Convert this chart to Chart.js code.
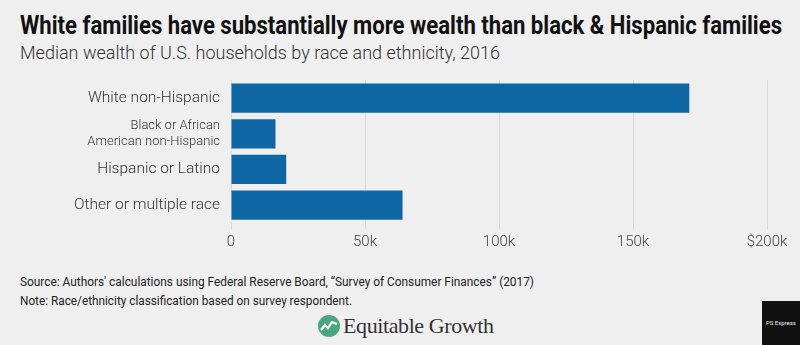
<!DOCTYPE html>
<html>
<head>
<meta charset="utf-8">
<script src="https://cdn.jsdelivr.net/npm/chart.js@4"></script>
<style>
  html, body { margin: 0; padding: 0; }
  body { width: 800px; height: 345px; background: #efefef; position: relative; overflow: hidden;
         font-family: Roboto, sans-serif; }
  .fit { position: absolute; left: 20px; white-space: nowrap; transform-origin: 0 0; }
  #title { top: 10px; font-size: 26px; font-weight: bold; color: #111; }
  #subtitle { top: 41px; font-size: 19px; color: #333; font-weight: 300; }
  #chart_div { position: absolute; left: 0; top: 68px; width: 800px; height: 187px; }
  .note { font-size: 12.5px; color: #222; }
  #logo { position: absolute; left: 318px; top: 313px; height: 26px; display: flex; align-items: center; }
  #logo span { font-family: "Liberation Serif", "DejaVu Serif", serif; font-size: 22px; color: #333; margin-left: 3px; letter-spacing: -0.4px; }
  #badge { position: absolute; left: 762px; top: 301px; width: 38px; height: 44px; background: #111; color: #eee;
           font-size: 6px; text-align: center; line-height: 44px; }
</style>
</head>
<body>
<div id="title" class="fit" data-w="762">White families have substantially more wealth than black &amp; Hispanic families</div>
<div id="subtitle" class="fit" data-w="480">Median wealth of U.S. households by race and ethnicity, 2016</div>
<div id="chart_div"><canvas id="bar_chart1"></canvas></div>
<div class="note fit" data-w="514" style="top:274px">Source: Authors' calculations using Federal Reserve Board, “Survey of Consumer Finances” (2017)</div>
<div class="note fit" data-w="332" style="top:293px">Note: Race/ethnicity classification based on survey respondent.</div>
<div id="logo">
  <svg width="22" height="22" viewBox="0 0 22 22">
    <circle cx="11" cy="11" r="11" fill="#4aa67e"/>
    <polyline points="3,15 7,10 10,13 14,7 19,9" fill="none" stroke="#fff" stroke-width="2.2"/>
  </svg>
  <span>Equitable Growth</span>
</div>
<div id="badge">PS Express</div>

<script>
// Median wealth by race/ethnicity, 2016 (dollars)
var categories = ["White non-Hispanic", ["Black or African", "American non-Hispanic"], "Hispanic or Latino", "Other or multiple race"];
var median_wealth = [171000, 16600, 20600, 64000];
var tick_values = [0, 50000, 100000, 150000, 200000];
var tick_labels = ["0", "50k", "100k", "150k", "$200k"];

// squeeze text blocks to the widths of the original (condensed font)
document.querySelectorAll(".fit").forEach(function (el) {
    var w = el.getBoundingClientRect().width;
    el.style.transform = "scaleX(" + (el.dataset.w / w) + ")";
});

var label_font = "Roboto, sans-serif";

const chart = document.getElementById("bar_chart1");
new Chart(chart, {
    type: "bar",
    data: {
        labels: categories,
        datasets: [
            {
                label: "Median wealth",
                data: median_wealth,
                backgroundColor: "#0f66a5",
                barPercentage: 0.82,
                categoryPercentage: 1.0
            }
        ]
    },
    options: {
        indexAxis: "y",
        responsive: true,
        maintainAspectRatio: false,
        animation: false,
        layout: { padding: { top: 7, right: 33, left: 0, bottom: 0 } },
        plugins: { legend: { display: false }, tooltip: { enabled: false } },
        scales: {
            x: {
                min: 0,
                max: 200000,
                afterBuildTicks: function (scale) {
                    scale.ticks = tick_values.map(v => ({ value: v }));
                },
                ticks: {
                    color: "#444",
                    font: { family: label_font, size: 15, weight: 300 },
                    padding: 4,
                    maxRotation: 0,
                    callback: function (value, index) { return tick_labels[index]; }
                },
                grid: { color: "#d8d8d8", tickLength: 6, drawTicks: true },
                border: { display: false }
            },
            y: {
                afterFit: function (scale) { scale.width = 231; },
                ticks: {
                    color: "#333",
                    padding: 3,
                    autoSkip: false,
                    font: function (ctx) {
                        return ctx.index === 1 ? { family: label_font, size: 13, weight: 300, lineHeight: 1.2 }
                                               : { family: label_font, size: 15.5, weight: 300 };
                    }
                },
                grid: { display: false },
                border: { display: false }
            }
        }
    }
});
</script>
</body>
</html>
